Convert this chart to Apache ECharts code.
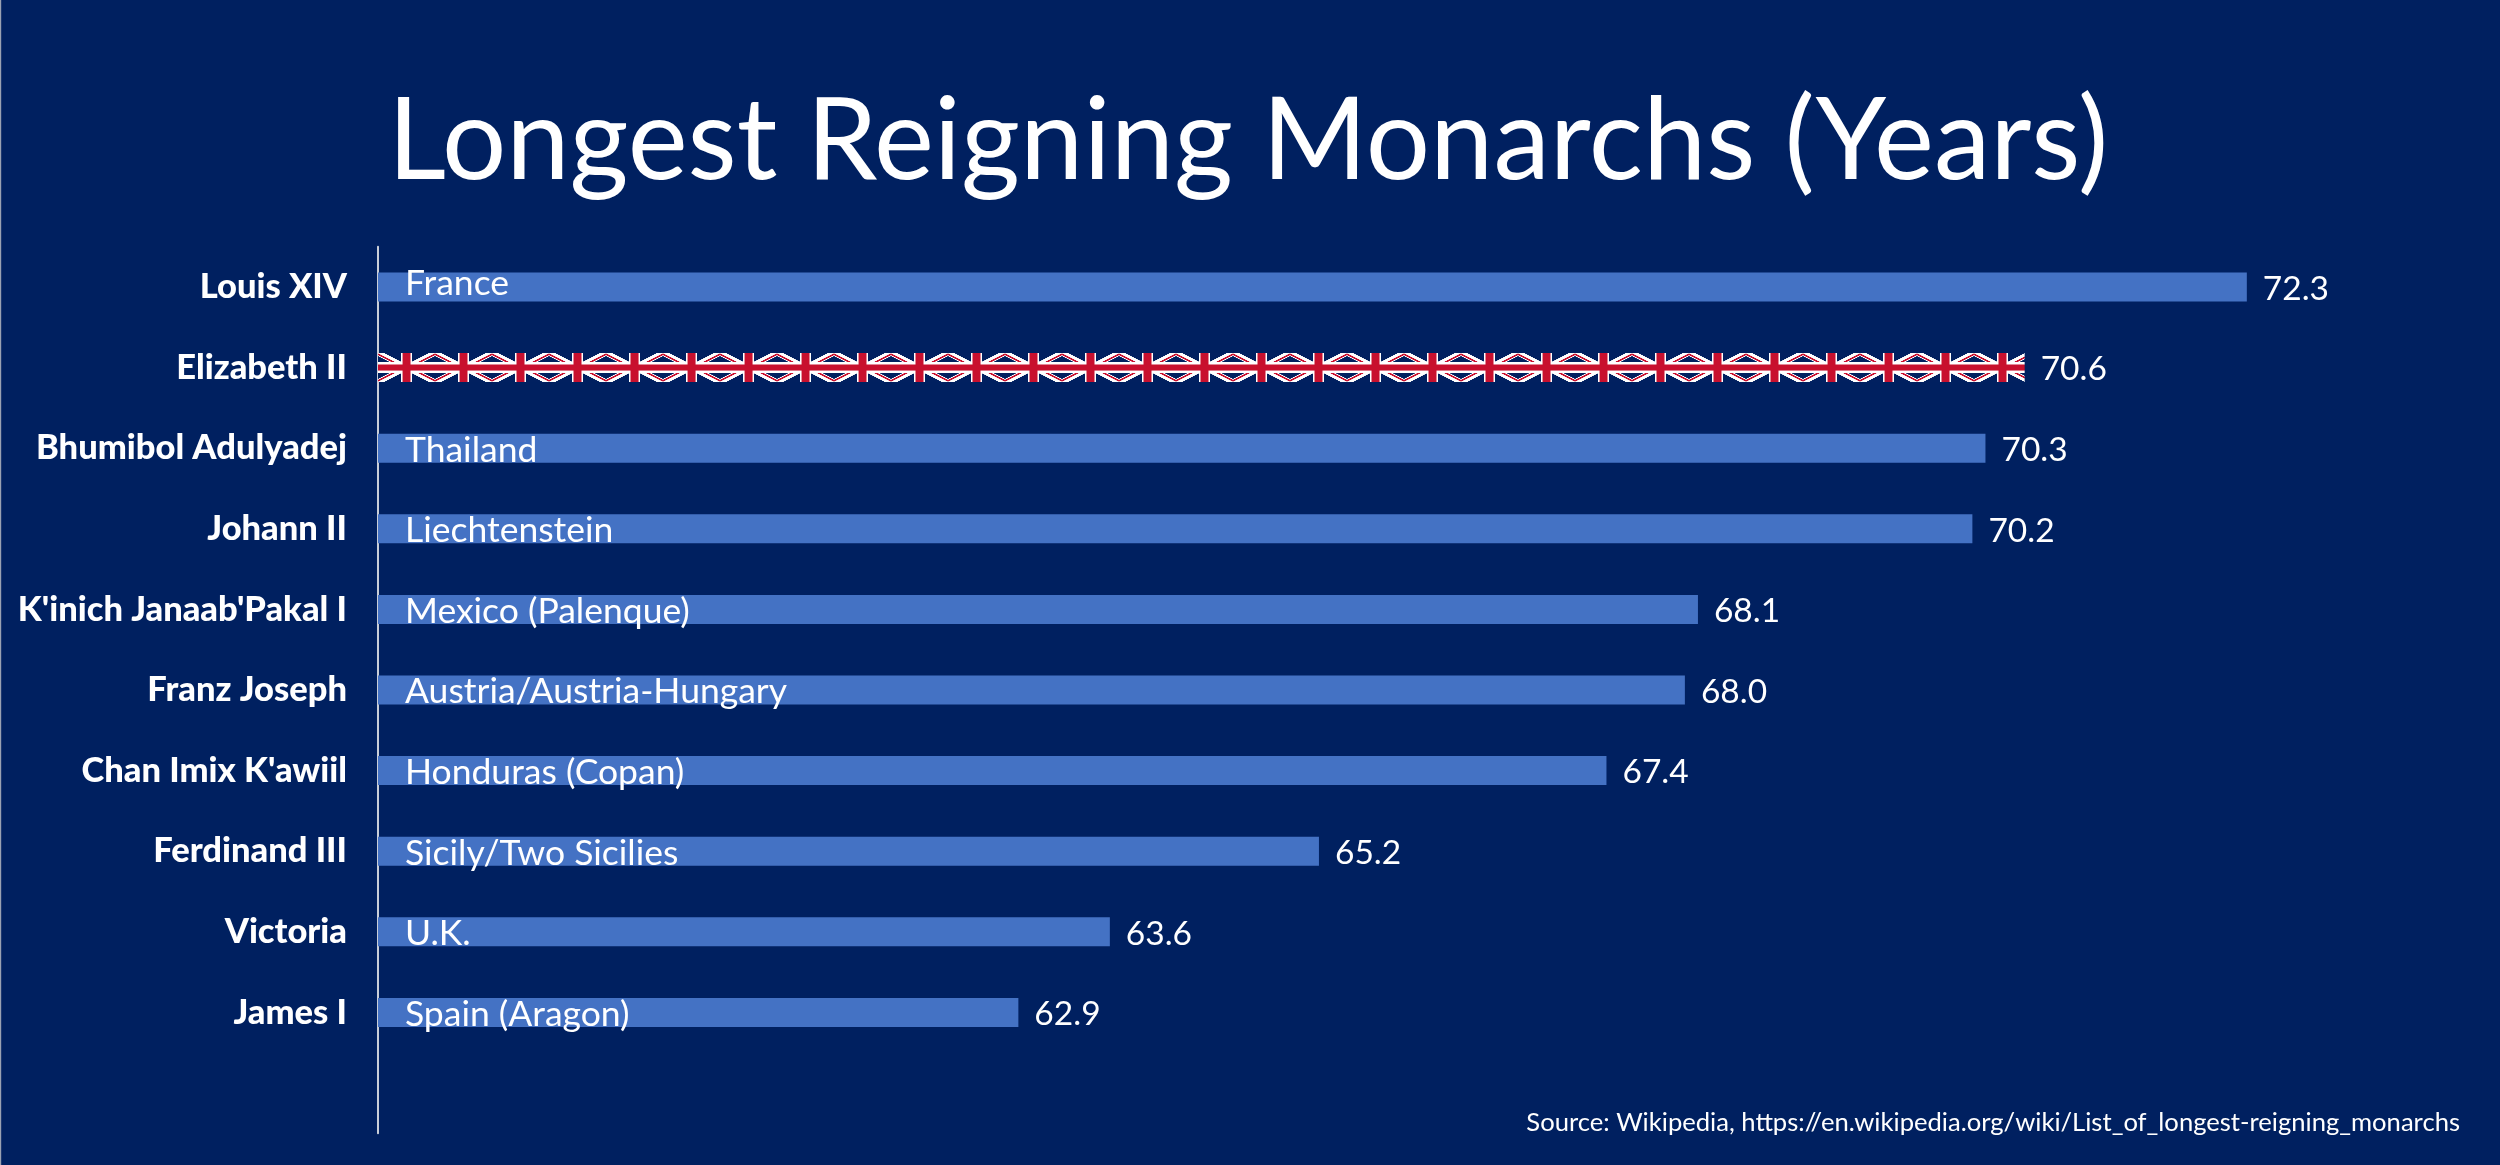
<!DOCTYPE html>
<html><head><meta charset="utf-8">
<style>html,body{margin:0;padding:0;background:#002060}#c{width:2500px;height:1165px}</style>
<script src="https://cdn.jsdelivr.net/npm/echarts@6/dist/echarts.min.js"></script>
</head><body><div id="c"></div>
<script>
const monarchs = ["Louis XIV","Elizabeth II","Bhumibol Adulyadej","Johann II","K'inich Janaab'Pakal I","Franz Joseph","Chan Imix K'awiil","Ferdinand III","Victoria","James I",""];
const countries = ["France","","Thailand","Liechtenstein","Mexico (Palenque)","Austria/Austria-Hungary","Honduras (Copan)","Sicily/Two Sicilies","U.K.","Spain (Aragon)",""];
const years = [72.3,70.6,70.3,70.2,68.1,68.0,67.4,65.2,63.6,62.9,null];

function flagTile(){
  const w=57,h=29,s=4;
  const c=document.createElement('canvas');c.width=w*s;c.height=h*s;
  const x=c.getContext('2d');x.scale(s,s);
  x.fillStyle='#012060';x.fillRect(0,0,w,h);
  x.strokeStyle='#fff';x.lineWidth=5.5;
  x.beginPath();x.moveTo(0,0);x.lineTo(w,h);x.moveTo(w,0);x.lineTo(0,h);x.stroke();
  x.strokeStyle='#C8102E';x.lineWidth=1.6;
  const o=1.2;
  x.beginPath();
  x.moveTo(0,o);x.lineTo(w/2,h/2+o);
  x.moveTo(w,h-o);x.lineTo(w/2,h/2-o);
  x.moveTo(w,o);x.lineTo(w/2,h/2+o);
  x.moveTo(0,h-o);x.lineTo(w/2,h/2-o);
  x.stroke();
  x.fillStyle='#fff';x.fillRect(w/2-5.5,0,11,h);x.fillRect(0,h/2-5.5,w,11);
  x.fillStyle='#C8102E';x.fillRect(w/2-4,0,8,h);x.fillRect(0,h/2-3,w,6);
  return c;
}
const FONT='Lato';
const flagFill={image:flagTile(),repeat:'repeat',x:378,y:353,scaleX:.25,scaleY:.25};
const barData=years.map((v,i)=>monarchs[i]==='Elizabeth II'?{value:v,itemStyle:{color:flagFill}}:v);
const labelData=years.map((v,i)=>i===0?{value:v,label:{offset:[27,-3]}}:v);
const chart=echarts.init(document.getElementById('c'),null,{renderer:'canvas',width:2500,height:1165});
chart.setOption({
  animation:false,
  backgroundColor:'#002060',
  title:[
    {text:'Longest Reigning Monarchs (Years)',left:1243,textAlign:'center',top:80,textStyle:{color:'#fff',fontFamily:FONT,fontWeight:400,fontSize:113.5}},
    {text:'Source: Wikipedia, https://en.wikipedia.org/wiki/List_of_longest-reigning_monarchs',right:35,top:1105,textStyle:{color:'#fff',fontFamily:FONT,fontWeight:400,fontSize:25.6}}
  ],
  graphic:[{type:'rect',shape:{x:0,y:0,width:1.2,height:1165},style:{fill:'#9aa1b2'},silent:true}],
  grid:{left:378,top:246.7,width:2091,height:886.6,containLabel:false},
  xAxis:{type:'value',min:58,max:74,show:false},
  yAxis:{type:'category',inverse:true,data:monarchs,
    axisLine:{show:true,lineStyle:{color:'#c9ced8',width:2}},
    axisTick:{show:false},
    axisLabel:{color:'#fff',fontFamily:FONT,fontWeight:900,fontSize:34.5,margin:31,interval:0}},
  series:[
    {type:'bar',name:'Reign',data:barData,barWidth:29,barGap:'-100%',z:2,silent:true,itemStyle:{color:'#4472C4'},
     label:{show:true,position:'right',distance:16,offset:[0,2],color:'#fff',fontFamily:FONT,fontSize:33.5,
       formatter:p=>p.value==null?'':Number(p.value).toFixed(1)}},
    {type:'bar',name:'Country',data:labelData,barWidth:29,barGap:'-100%',z:5,silent:true,itemStyle:{color:'rgba(0,0,0,0)'},
     label:{show:true,position:'insideLeft',distance:0,offset:[27,2],color:'#fff',fontFamily:FONT,fontSize:35.5,
       formatter:p=>countries[p.dataIndex]}}
  ]
});
</script></body></html>
